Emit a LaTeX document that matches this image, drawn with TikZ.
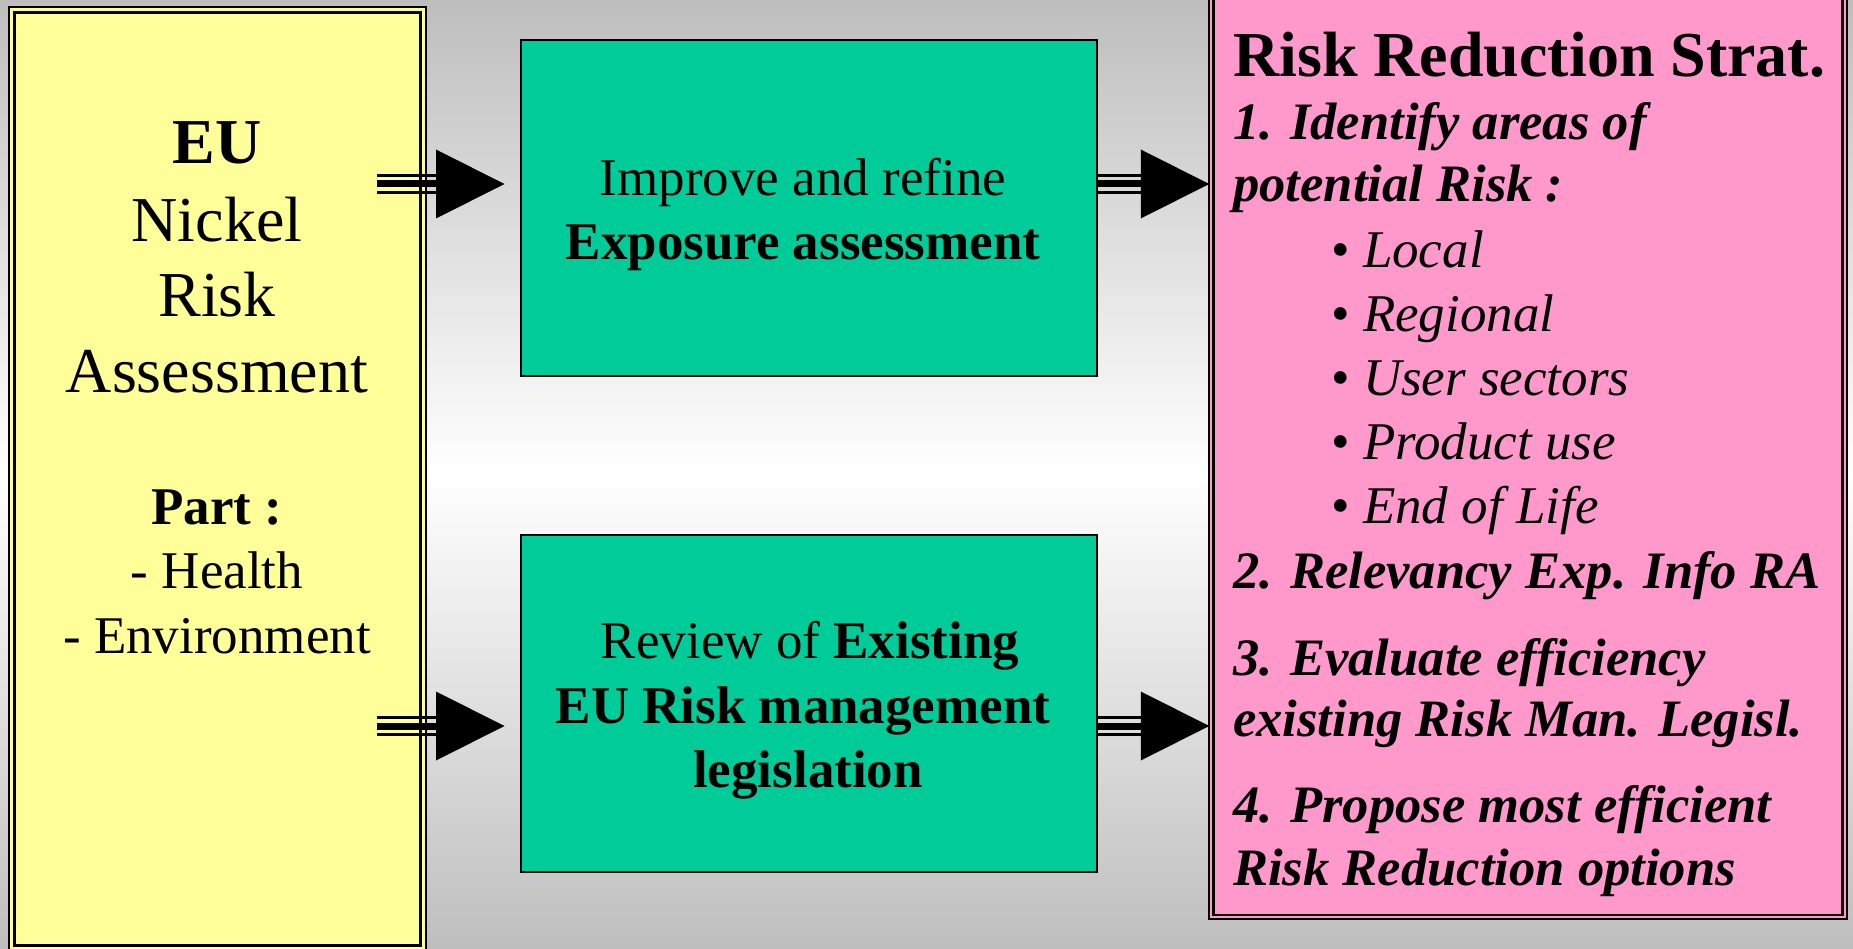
\documentclass[tikz,border=0pt]{standalone}
\usepackage{fontspec}
\setmainfont{Liberation Serif}
\definecolor{yelbox}{HTML}{FFFF99}
\definecolor{grnbox}{HTML}{00CC99}
\definecolor{pnkbox}{HTML}{FF99CC}
\definecolor{bggray}{RGB}{190,190,190}
\newcommand{\triplearrow}[2]{%
  \draw[line width=3.5pt] ([yshift=8.5pt]#1) -- ([xshift=-66pt,yshift=8.5pt]#2);
  \draw[line width=7pt] (#1) -- ([xshift=-66pt]#2);
  \draw[line width=3.5pt] ([yshift=-8.5pt]#1) -- ([xshift=-66pt,yshift=-8.5pt]#2);
  \fill (#2) -- ([xshift=-68.5pt,yshift=34.5pt]#2) -- ([xshift=-68.5pt,yshift=-34.5pt]#2) -- cycle;
}
\tikzset{
  txt/.style={anchor=base, inner sep=0pt},
  ltxt/.style={anchor=base west, inner sep=0pt},
  fbig/.style={font=\fontsize{64}{76}\selectfont},
  fmid/.style={font=\fontsize{53}{64}\selectfont},
  fgrn/.style={font=\fontsize{53}{64}\selectfont},
  ftitle/.style={font=\fontsize{64}{76}\selectfont\bfseries},
  fitem/.style={font=\fontsize{52.6}{64}\selectfont\bfseries\itshape},
  fbul/.style={font=\fontsize{53}{64}\selectfont\itshape},
  dblbox/.style={draw=black, double distance=3pt, line width=2.5pt, outer sep=0pt, inner sep=0pt},
  grnstyle/.style={draw=black, fill=grnbox, line width=2pt, outer sep=0pt, inner sep=0pt,
    minimum width=576pt, minimum height=336pt},
}
\begin{document}
\begin{tikzpicture}[x=1pt,y=-1pt]
\useasboundingbox (0,0) rectangle (1853,949);
\shade[top color=bggray, bottom color=bggray, middle color=white] (0,0) rectangle (1853,949);

% boxes
\node[dblbox, fill=yelbox, double=yelbox, minimum width=411.25pt, minimum height=938.4pt] (yel) at (217.4,478.8) {};
\node[grnstyle] (ga) at (809,208) {};
\node[grnstyle, minimum height=337pt] (gb) at (809,703.5) {};
\node[dblbox, fill=pnkbox, double=pnkbox, line width=2.2pt, double distance=2.4pt, minimum width=633.5pt, minimum height=927pt] (pnk) at (1528,453.5) {};

% yellow text
\node[txt, fbig] (t1) at (217,164) {\bfseries EU};
\node[txt, fbig] (t2) at (217,242) {Nickel};
\node[txt, fbig] (t3) at (217,317) {Risk};
\node[txt, fbig] (t4) at (217,393) {Assessment};
\node[txt, fmid] (t5) at (217,524) {\bfseries Part :};
\node[txt, fmid] (t6) at (217,588) {- Health};
\node[txt, fmid] (t7) at (217,653) {- Environment};

% green text
\node[txt, fgrn] (g1) at (803,196) {Improve and refine};
\node[txt, fgrn] (g2) at (803,260) {\bfseries Exposure assessment};
\node[txt, fgrn] (g3) at (810,658) {Review of \textbf{Existing}};
\node[txt, fgrn] (g4) at (803,723) {\bfseries EU Risk management};
\node[txt, fgrn] (g5) at (808,787) {\bfseries legislation};

% pink text
\node[ltxt, ftitle] (p0) at (1233,77) {Risk Reduction Strat.};
\node[ltxt, fitem] (p1) at (1233,140) {1. Identify areas of};
\node[ltxt, fitem] (p2) at (1233,202) {potential Risk :};
\node[ltxt, fbul] (b1) at (1331,268) {{\upshape •} Local};
\node[ltxt, fbul] (b2) at (1331,332) {{\upshape •} Regional};
\node[ltxt, fbul] (b3) at (1331,396) {{\upshape •} User sectors};
\node[ltxt, fbul] (b4) at (1331,460) {{\upshape •} Product use};
\node[ltxt, fbul] (b5) at (1331,523) {{\upshape •} End of Life};
\node[ltxt, fitem] (p3) at (1233,588) {2. Relevancy Exp. Info RA};
\node[ltxt, fitem] (p4) at (1233,675) {3. Evaluate efficiency};
\node[ltxt, fitem] (p5) at (1233,736) {existing Risk Man. Legisl.};
\node[ltxt, fitem] (p6) at (1233,822) {4. Propose most efficient};
\node[ltxt, fitem] (p7) at (1233,885) {Risk Reduction options};

% connectors
\coordinate (a1s) at ([xshift=-46pt]yel.east |- 0,184);
\coordinate (a1t) at ([xshift=-16.5pt]ga.west |- 0,184);
\coordinate (a2s) at (ga.east |- 0,184);
\coordinate (a2t) at ([xshift=-2pt]pnk.west |- 0,184);
\coordinate (a3s) at ([xshift=-46pt]yel.east |- 0,726);
\coordinate (a3t) at ([xshift=-16.5pt]gb.west |- 0,726);
\coordinate (a4s) at (gb.east |- 0,726);
\coordinate (a4t) at ([xshift=-2pt]pnk.west |- 0,726);
\triplearrow{a1s}{a1t}
\triplearrow{a2s}{a2t}
\triplearrow{a3s}{a3t}
\triplearrow{a4s}{a4t}
\end{tikzpicture}
\end{document}
